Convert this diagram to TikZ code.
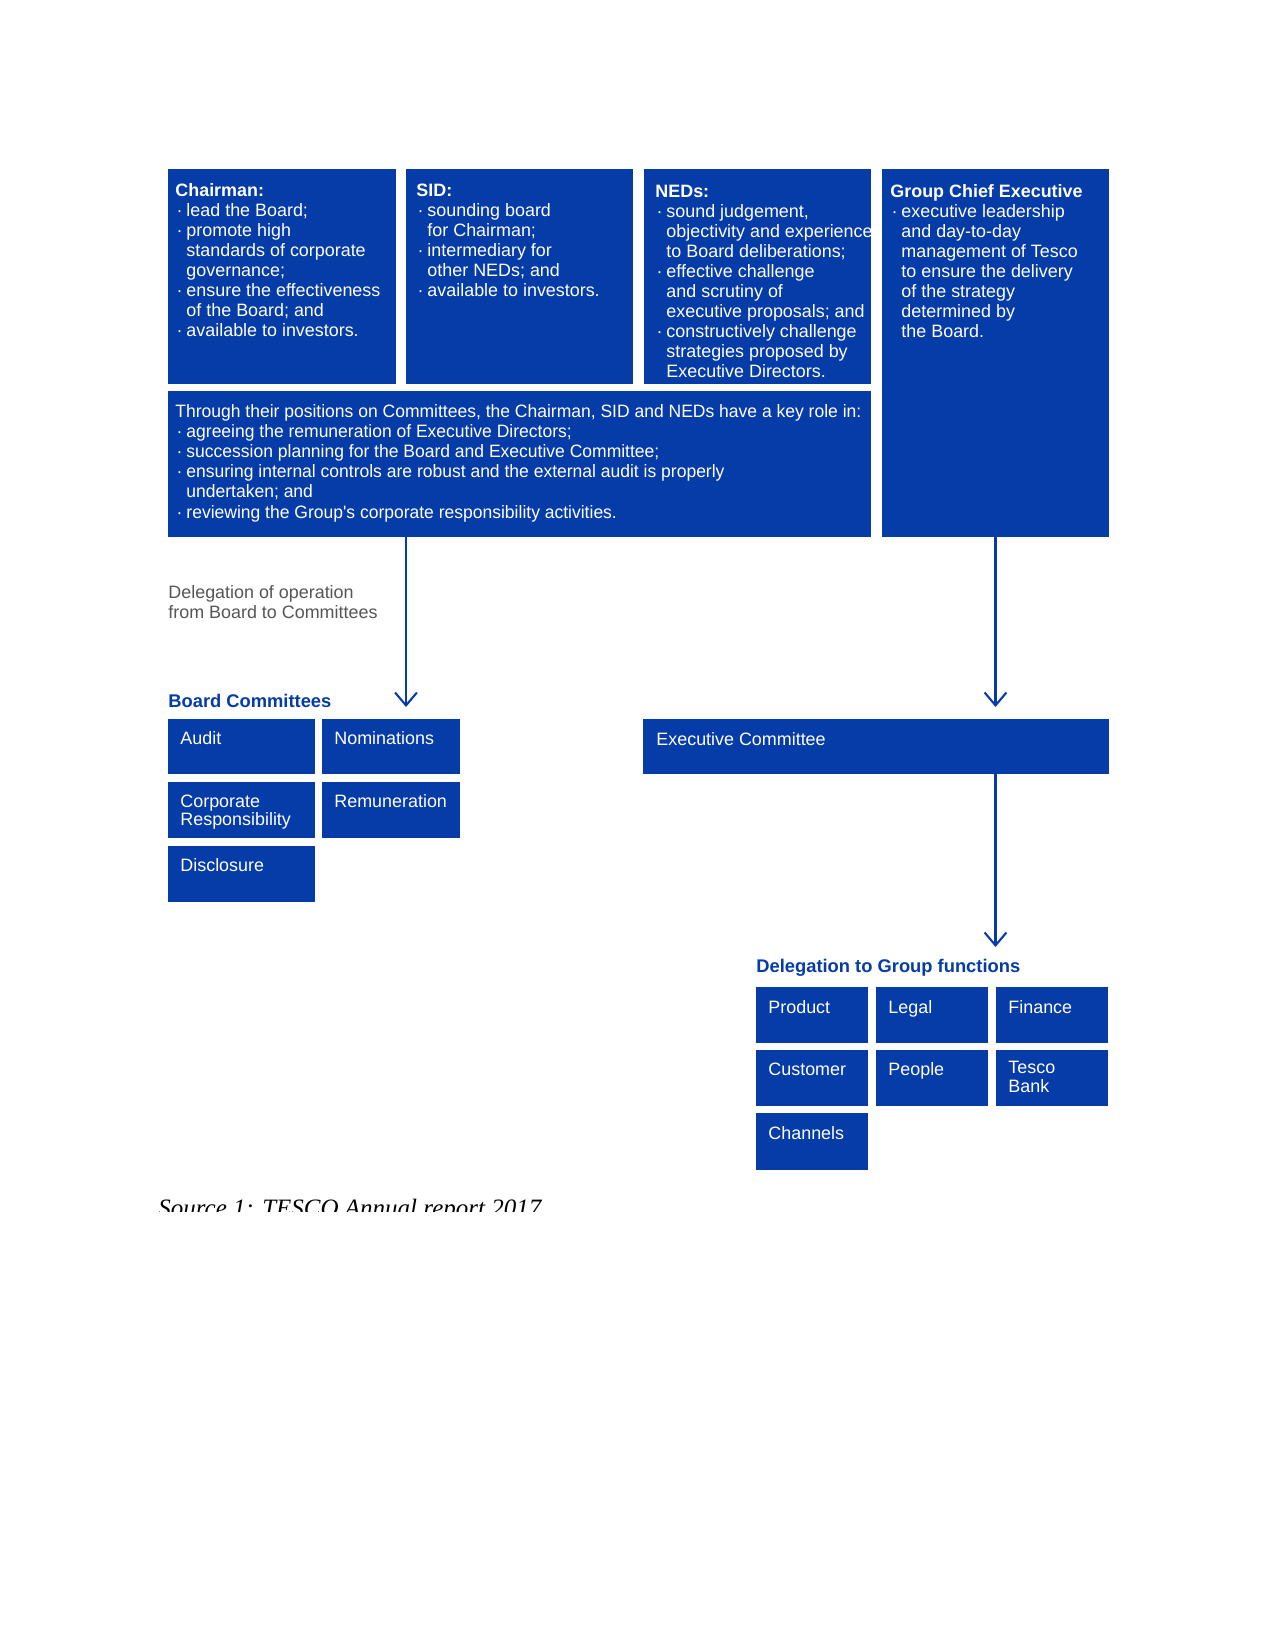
\documentclass[tikz,border=0pt]{standalone}
\usepackage{fontspec}
\setmainfont{Liberation Sans}
\newfontfamily\capfont{Liberation Serif}
\newfontfamily\wfont[FakeStretch=0.977]{Liberation Sans}
\usetikzlibrary{arrows.meta,fit}
\definecolor{tblue}{RGB}{6,60,168}
\definecolor{tgray}{RGB}{85,85,85}
\newcommand{\bl}{\makebox[5.3pt][l]{\hspace{0.6pt}\textperiodcentered}}
\newcommand{\ind}{\hspace*{5.3pt}}
\newcommand{\lines}[1]{\begin{tabular}[t]{@{}l@{}}#1\end{tabular}}
\tikzset{
  bx/.style={fill=tblue, draw=none, inner sep=0pt, outer sep=0pt},
  tx/.style={text=white, inner sep=0pt, anchor=base west, font=\fontsize{8.6}{9.55}\selectfont},
  sx/.style={text=white, inner sep=0pt, anchor=base west, font=\fontsize{8.6}{9.4}\selectfont},
  ttl/.style={text=tblue, inner sep=0pt, anchor=base west, font=\bfseries\fontsize{8.8}{10}\selectfont},
  arr/.style={draw=tblue, line width=1pt, -{Straight Barb[length=6.2pt,width=10.5pt,line width=1pt]}},
}
\begin{document}
\begin{tikzpicture}[x=0.48pt,y=-0.48pt]
\useasboundingbox (0,0) rectangle (1275,1650);
\fill[white] (0,0) rectangle (1275,1650);

% top boxes
\node[bx, fit={(168,169) (396,384)}] (chair) {};
\node[bx, fit={(406,169) (633,384)}] (sid) {};
\node[bx, fit={(644,169) (871,384)}] (neds) {};
\node[bx, fit={(882,169) (1109,537)}] (gce) {};
\node[bx, fit={(168,391) (871,537)}] (wide) {};

\node[tx] (chairT) at ([shift={(7,28)}]chair.north west) {\lines{\textbf{Chairman:}\\
\bl lead the Board;\\
\bl promote high\\
\ind standards of corporate\\
\ind governance;\\
\bl ensure the effectiveness\\
\ind of the Board; and\\
\bl available to investors.}};

\node[tx] (sidT) at ([shift={(10,28)}]sid.north west) {\lines{\textbf{SID:}\\
\bl sounding board\\
\ind for Chairman;\\
\bl intermediary for\\
\ind other NEDs; and\\
\bl available to investors.}};

\node[tx] (nedsT) at ([shift={(11,29)}]neds.north west) {\lines{\textbf{NEDs:}\\
\bl sound judgement,\\
\ind objectivity and experience\\
\ind to Board deliberations;\\
\bl effective challenge\\
\ind and scrutiny of\\
\ind executive proposals; and\\
\bl constructively challenge\\
\ind strategies proposed by\\
\ind Executive Directors.}};

\node[tx] (gceT) at ([shift={(8,29)}]gce.north west) {\lines{\textbf{Group Chief Executive}\\
\bl executive leadership\\
\ind and day-to-day\\
\ind management of Tesco\\
\ind to ensure the delivery\\
\ind of the strategy\\
\ind determined by\\
\ind the Board.}};

\node[tx, font=\wfont\fontsize{8.6}{9.6}\selectfont] (wideT) at ([shift={(7,27)}]wide.north west) {\lines{Through their positions on Committees, the Chairman, SID and NEDs have a key role in:\\
\bl agreeing the remuneration of Executive Directors;\\
\bl succession planning for the Board and Executive Committee;\\
\bl ensuring internal controls are robust and the external audit is properly\\
\ind undertaken; and\\
\bl reviewing the Group's corporate responsibility activities.}};

% left branch
\node[inner sep=0pt, anchor=base west, text=tgray, font=\fontsize{8.6}{9.6}\selectfont] (delegT) at (168,598) {\lines{Delegation of operation\\ from Board to Committees}};
\node[ttl] (bcT) at (168,707) {Board Committees};
\coordinate (bcTip) at (406,707);

\node[bx, fit={(168,719) (315,774)}] (audit) {};
\node[bx, fit={(322,719) (460,774)}] (nom) {};
\node[bx, fit={(168,782) (315,838)}] (corp) {};
\node[bx, fit={(322,782) (460,838)}] (rem) {};
\node[bx, fit={(168,846) (315,902)}] (disc) {};
\node[sx] at ([shift={(12,25)}]audit.north west) {Audit};
\node[sx] at ([shift={(12,25)}]nom.north west) {Nominations};
\node[sx, font=\fontsize{8.6}{8.3}\selectfont] at ([shift={(12,25)}]corp.north west) {\lines{Corporate\\ Responsibility}};
\node[sx] at ([shift={(12,25)}]rem.north west) {Remuneration};
\node[sx] at ([shift={(12,25)}]disc.north west) {Disclosure};

% right branch
\node[bx, fit={(643,719) (1109,774)}] (execom) {};
\node[sx] at ([shift={(13,26)}]execom.north west) {Executive Committee};
\coordinate (ecTip) at (995,707);
\coordinate (gfTip) at (995,947);

\node[ttl] (gfT) at (756,972) {Delegation to Group functions};
\node[bx, fit={(756,987) (868,1043)}] (product) {};
\node[bx, fit={(876,987) (988,1043)}] (legal) {};
\node[bx, fit={(996,987) (1108,1043)}] (finance) {};
\node[bx, fit={(756,1050) (868,1106)}] (customer) {};
\node[bx, fit={(876,1050) (988,1106)}] (people) {};
\node[bx, fit={(996,1050) (1108,1106)}] (bank) {};
\node[bx, fit={(756,1113) (868,1170)}] (channels) {};
\node[sx] at ([shift={(12,26)}]product.north west) {Product};
\node[sx] at ([shift={(12,26)}]legal.north west) {Legal};
\node[sx] at ([shift={(12,26)}]finance.north west) {Finance};
\node[sx] at ([shift={(12,25)}]customer.north west) {Customer};
\node[sx] at ([shift={(12,25)}]people.north west) {People};
\node[sx, font=\fontsize{8.6}{9.3}\selectfont] at ([shift={(12,23)}]bank.north west) {\lines{Tesco\\ Bank}};
\node[sx] at ([shift={(12,26)}]channels.north west) {Channels};

% connectors
\draw[arr] (wide.south -| bcTip) -- (bcTip);
\draw[arr] (gce.south) -- (gce.south |- ecTip);
\draw[arr] (execom.south -| gce.south) -- (gce.south |- gfTip);

% caption (clipped as in source)
\begin{scope}
\clip (0,0) rectangle (1275,1211);
\node[anchor=base west, inner sep=0pt, font=\capfont\itshape\fontsize{12}{14}\selectfont] (cap) at (158,1216.5) {Source 1: TESCO Annual report 2017};
\end{scope}
\end{tikzpicture}
\end{document}
